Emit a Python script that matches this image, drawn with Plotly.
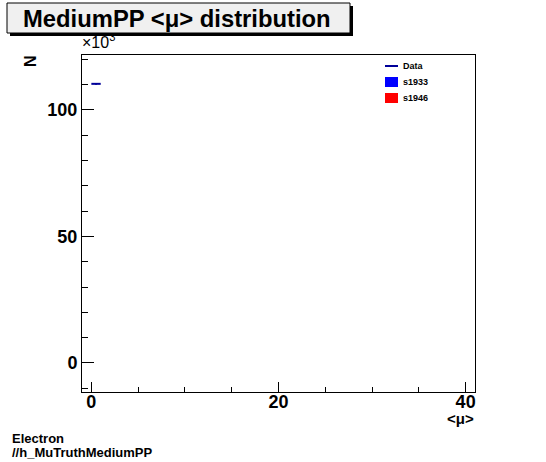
import plotly.graph_objects as go

# ---- data ----
bin_low = [0.0]
bin_high = [1.0]
counts = [110300]          # entries in the single populated bin
legend_names = ["Data", "s1933", "s1946"]
legend_colors = ["#000099", "#0000ff", "#ff0000"]
x_ticks = [0, 20, 40]
y_ticks = [0, 50, 100]     # in units of 10^3

W, H = 546, 462
L, R, T, B = 82, 71, 55, 70
pw, ph = W - L - R, H - T - B

def px(x):
    return (x - L) / pw

def py(y):
    return (H - B - y) / ph

centers = [(a + b) / 2 for a, b in zip(bin_low, bin_high)]
halfw = [(b - a) / 2 for a, b in zip(bin_low, bin_high)]
yk = [c / 1000 for c in counts]
yerr = [c ** 0.5 / 1000 for c in counts]

fig = go.Figure()
fig.add_trace(go.Scatter(
    x=centers, y=yk, mode="markers",
    marker=dict(size=1, color=legend_colors[0]),
    error_x=dict(type="data", array=halfw, color=legend_colors[0], thickness=2, width=0),
    error_y=dict(type="data", array=yerr, color=legend_colors[0], thickness=2, width=0),
    showlegend=False,
))

font = "Liberation Sans, Arial, Helvetica, sans-serif"
shapes = []
ann = []

# title box with shadow
shapes.append(dict(type="rect", xref="paper", yref="paper",
                   x0=px(10), x1=px(353), y0=py(36), y1=py(6),
                   fillcolor="#000000", line=dict(width=0), layer="above"))
shapes.append(dict(type="rect", xref="paper", yref="paper",
                   x0=px(7), x1=px(350), y0=py(33), y1=py(3),
                   fillcolor="#f0f0f0", line=dict(color="#000000", width=1), layer="above"))
ann.append(dict(text="<b>MediumPP &lt;μ&gt; distribution</b>", xref="paper", yref="paper",
                x=px(177), y=py(18), xanchor="center", yanchor="middle",
                showarrow=False, font=dict(family=font, size=23.8, color="#000")))

# legend (drawn by hand)
ly = [66, 82, 98]
shapes.append(dict(type="line", xref="paper", yref="paper",
                   x0=px(385), x1=px(398), y0=py(ly[0]), y1=py(ly[0]),
                   line=dict(color=legend_colors[0], width=2), layer="above"))
for i in (1, 2):
    shapes.append(dict(type="rect", xref="paper", yref="paper",
                       x0=px(385), x1=px(398), y0=py(ly[i] + 5), y1=py(ly[i] - 5),
                       fillcolor=legend_colors[i], line=dict(width=0), layer="above"))
for name, y in zip(legend_names, ly):
    ann.append(dict(text="<b>" + name + "</b>", xref="paper", yref="paper",
                    x=px(401), y=py(y), xanchor="left", yanchor="middle",
                    showarrow=False, font=dict(family=font, size=9, color="#000")))

# axis decorations
ann.append(dict(text="×10<sup>3</sup>", xref="paper", yref="paper",
                x=px(80), y=py(53), xanchor="left", yanchor="bottom",
                showarrow=False, font=dict(family=font, size=16, color="#000")))
ann.append(dict(text="<b>N</b>", xref="paper", yref="paper",
                x=px(31), y=py(61), xanchor="center", yanchor="middle", textangle=-90,
                showarrow=False, font=dict(family=font, size=16, color="#000")))
ann.append(dict(text="<b>&lt;μ&gt;</b>", xref="paper", yref="paper",
                x=px(476), y=py(418), xanchor="right", yanchor="middle",
                showarrow=False, font=dict(family=font, size=15, color="#000")))
ann.append(dict(text="<b>Electron</b>", xref="paper", yref="paper",
                x=px(10), y=py(438), xanchor="left", yanchor="middle",
                showarrow=False, font=dict(family=font, size=13, color="#000")))
ann.append(dict(text="<b>//h_MuTruthMediumPP</b>", xref="paper", yref="paper",
                x=px(10), y=py(452), xanchor="left", yanchor="middle",
                showarrow=False, font=dict(family=font, size=13, color="#000")))

axis_common = dict(showline=True, linecolor="#000", linewidth=1, mirror=True,
                   ticks="inside", tickcolor="#000", showgrid=False, zeroline=False,
                   tickfont=dict(family=font, size=18, color="#000"))

fig.update_layout(
    width=W, height=H,
    margin=dict(l=L, r=R, t=T, b=B, pad=0),
    paper_bgcolor="#ffffff", plot_bgcolor="#ffffff",
    showlegend=False,
    shapes=shapes, annotations=ann,
    xaxis=dict(range=[-1, 41], tickvals=x_ticks, ticktext=["<b>%d</b>" % v for v in x_ticks],
               ticklen=10, ticklabelstandoff=-7,
               minor=dict(dtick=5, tick0=0, ticks="inside", ticklen=5, tickcolor="#000"),
               **axis_common),
    yaxis=dict(range=[-11.5, 121.7], tickvals=y_ticks, ticktext=["<b>%d</b>" % v for v in y_ticks],
               ticklen=12,
               minor=dict(dtick=10, tick0=0, ticks="inside", ticklen=6, tickcolor="#000"),
               **axis_common),
)

fig.write_html("out.html", config={"displayModeBar": False},
               post_script="document.body.style.margin='0';document.body.style.overflow='hidden';")
